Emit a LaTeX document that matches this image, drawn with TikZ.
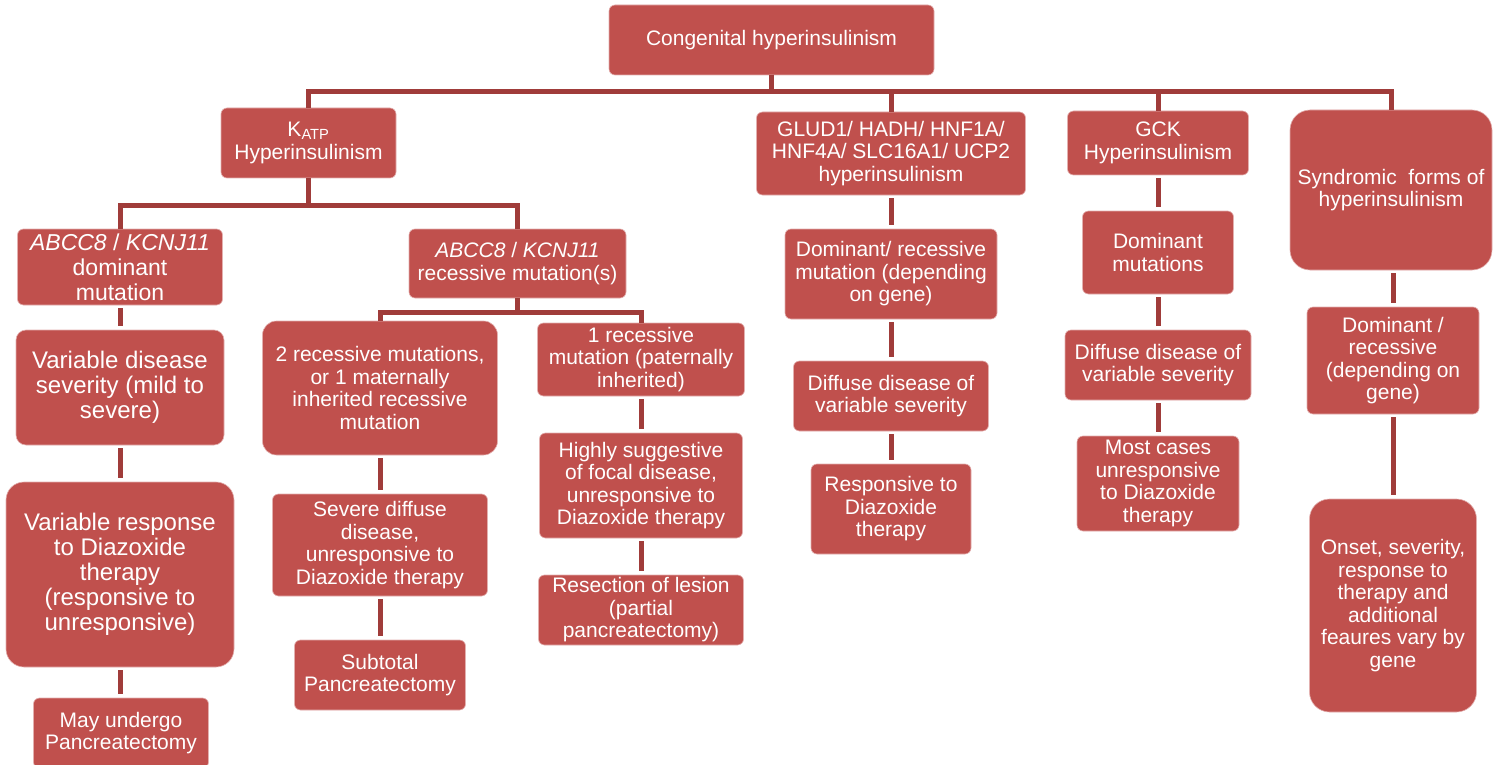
\documentclass[tikz,border=0pt]{standalone}
\usepackage{fontspec}
\setmainfont{Liberation Sans}
\definecolor{boxred}{RGB}{192,80,77}
\definecolor{linkred}{RGB}{160,60,58}

\begin{document}
\begin{tikzpicture}[x=1pt, y=-1pt, outer sep=0pt]

\tikzstyle{box}=[draw=white!55!boxred, line width=0.6pt, fill=boxred, rounded corners=6pt, text=white, align=center, inner sep=0pt, font=\fontsize{21}{22.5}\selectfont]
\tikzstyle{bigbox}=[box, font=\fontsize{24}{25}\selectfont]
\tikzstyle{link}=[draw=linkred, line width=5pt]
\tikzstyle{chain}=[link, shorten <=3pt, shorten >=4pt]

\useasboundingbox (0,0) rectangle (1508,765);

\node[box, minimum width=325pt, minimum height=70pt] (root) at (771.5,40) {Congenital hyperinsulinism};

\node[box, minimum width=175pt, minimum height=70pt] (katp) at (308.5,143) {K\textsubscript{ATP}\\Hyperinsulinism};
\node[box, minimum width=269pt, minimum height=83pt] (glud) at (891,153.5) {GLUD1/ HADH/ HNF1A/\\HNF4A/ SLC16A1/ UCP2\\hyperinsulinism};
\node[box, minimum width=181pt, minimum height=64pt] (gck) at (1158,143) {GCK\\Hyperinsulinism};
\node[box, rounded corners=20pt, minimum width=202pt, minimum height=160pt] (synd) at (1391,190) {Syndromic\ \ forms of\\hyperinsulinism};

\node[box, font=\fontsize{23}{25}\selectfont, minimum width=205pt, minimum height=76pt] (abdom) at (120,267) {\textit{ABCC8} / \textit{KCNJ11}\\dominant\\mutation};
\node[box, minimum width=217pt, minimum height=69pt] (abrec) at (517.5,263.5) {\textit{ABCC8} / \textit{KCNJ11}\\recessive mutation(s)};

\node[box, rounded corners=14pt, minimum width=235pt, minimum height=134pt] (tworec) at (380,388) {2 recessive mutations,\\or 1 maternally\\inherited recessive\\mutation};
\node[box, minimum width=207pt, minimum height=73pt] (onerec) at (641,359.5) {1 recessive\\mutation (paternally\\inherited)};

\node[bigbox, rounded corners=10pt, minimum width=208pt, minimum height=115pt] (varsev) at (120,387.5) {Variable disease\\severity (mild to\\severe)};
\node[bigbox, rounded corners=18pt, minimum width=228pt, minimum height=185pt] (varresp) at (120,574.5) {Variable response\\to Diazoxide\\therapy\\(responsive to\\unresponsive)};
\node[box, minimum width=175pt, minimum height=70pt] (mayund) at (121,733) {May undergo\\Pancreatectomy};

\node[box, minimum width=215pt, minimum height=102pt] (severe) at (380,545) {Severe diffuse\\disease,\\unresponsive to\\Diazoxide therapy};
\node[box, minimum width=171pt, minimum height=70pt] (subtot) at (380,675) {Subtotal\\Pancreatectomy};

\node[box, minimum width=203pt, minimum height=105pt] (highly) at (641,485.5) {Highly suggestive\\of focal disease,\\unresponsive to\\Diazoxide therapy};
\node[box, minimum width=205pt, minimum height=70pt] (resect) at (641,610) {Resection of lesion\\(partial\\pancreatectomy)};

\node[box, minimum width=212pt, minimum height=90pt] (domrec) at (891,274) {Dominant/ recessive\\mutation (depending\\on gene)};
\node[box, minimum width=195pt, minimum height=70pt] (diffa) at (891,396) {Diffuse disease of\\variable severity};
\node[box, minimum width=160pt, minimum height=90pt] (respon) at (891,509) {Responsive to\\Diazoxide\\therapy};

\node[box, minimum width=151pt, minimum height=83pt] (dommut) at (1158,252.5) {Dominant\\mutations};
\node[box, minimum width=186pt, minimum height=70pt] (diffb) at (1158,365) {Diffuse disease of\\variable severity};
\node[box, minimum width=162pt, minimum height=95pt] (most) at (1158,483.5) {Most cases\\unresponsive\\to Diazoxide\\therapy};

\node[box, minimum width=172pt, minimum height=107pt] (synrec) at (1393,360.5) {Dominant /\\recessive\\(depending on\\gene)};
\node[box, rounded corners=20pt, minimum width=167pt, minimum height=213pt] (onset) at (1393,605.5) {Onset, severity,\\response to\\therapy and\\additional\\feaures vary by\\gene};

\coordinate (bartop) at (0,92);
\coordinate (barkatp) at (0,205);
\coordinate (barrec) at (0,312);

\draw[link] (root.south) -- (root.south |- bartop) -| (katp.north);
\draw[link] (root.south) -- (root.south |- bartop) -| (glud.north);
\draw[link] (root.south) -- (root.south |- bartop) -| (gck.north);
\draw[link] (root.south) -- (root.south |- bartop) -| (synd.north);

\draw[link] (katp.south) -- (katp.south |- barkatp) -| (abdom.north);
\draw[link] (katp.south) -- (katp.south |- barkatp) -| (abrec.north);

\draw[link] (abrec.south) -- (abrec.south |- barrec) -| (tworec.north);
\draw[link] (abrec.south) -- (abrec.south |- barrec) -| (onerec.north);

\draw[chain] (abdom) -- (varsev); \draw[chain] (varsev) -- (varresp); \draw[chain] (varresp.south) -- (varresp.south |- mayund.north);
\draw[chain] (tworec) -- (severe); \draw[chain] (severe) -- (subtot);
\draw[chain] (onerec) -- (highly); \draw[chain] (highly) -- (resect);
\draw[chain] (glud) -- (domrec); \draw[chain] (domrec) -- (diffa); \draw[chain] (diffa) -- (respon);
\draw[chain] (gck) -- (dommut); \draw[chain] (dommut) -- (diffb); \draw[chain] (diffb) -- (most);
\draw[chain] (synrec.north |- synd.south) -- (synrec.north); \draw[chain] (synrec) -- (onset);

\end{tikzpicture}
\end{document}
